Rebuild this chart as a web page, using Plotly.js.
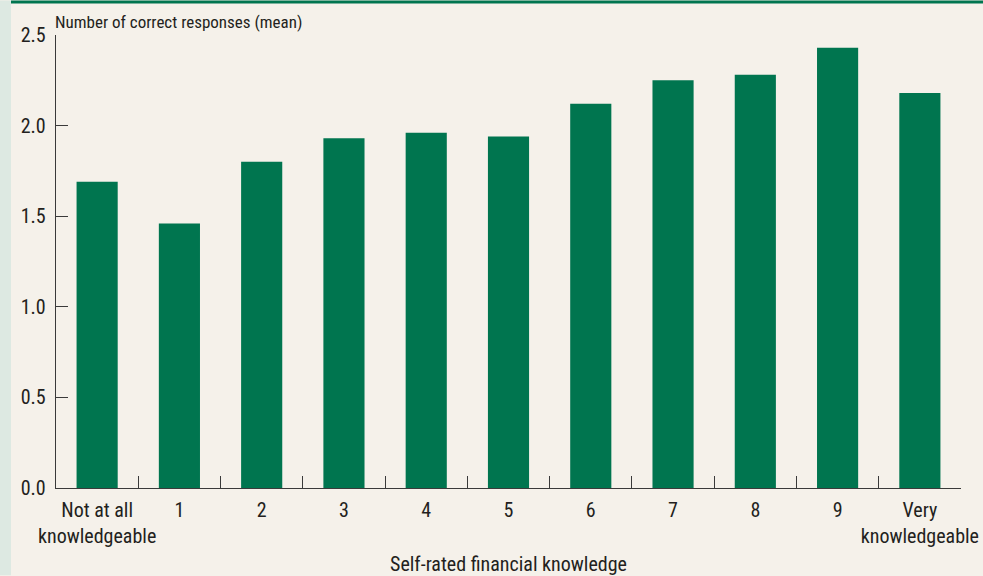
<!DOCTYPE html>
<html>
<head>
<meta charset="utf-8">
<script src="https://cdn.plot.ly/plotly-3.0.1.min.js"></script>
<style>
html,body{margin:0;padding:0;background:#F5F1EA;}
#chart{width:983px;height:576px;}
</style>
</head>
<body>
<div id="chart"></div>
<script>
const categories = ["Not at all<br>knowledgeable","1","2","3","4","5","6","7","8","9","Very<br>knowledgeable"];
const meanCorrect = [1.69, 1.46, 1.80, 1.93, 1.96, 1.94, 2.12, 2.25, 2.28, 2.43, 2.18];
const yTicks = [0, 0.5, 1.0, 1.5, 2.0, 2.5];
const yTickLabels = ["0.0","0.5","1.0","1.5","2.0","2.5"];
const yTitle = "Number of correct responses (mean)";
const xTitle = "Self-rated financial knowledge";

const FONT = "'Liberation Sans Narrow', 'Arial Narrow', 'Roboto Condensed', sans-serif";
const W = 983, H = 576;
const L = 56, R = 22, T = 34.5, B = 87.5;
const pw = W - L - R, ph = H - T - B;
const px = v => (v - L) / pw;
const py = v => (H - B - v) / ph;

const trace = {
  type: "bar",
  x: categories,
  y: meanCorrect,
  marker: {color: "#00754F", line: {width: 0}},
  hoverinfo: "x+y"
};

const layout = {
  width: W, height: H,
  margin: {l: L, r: R, t: T, b: B, pad: 0},
  paper_bgcolor: "#F5F1EA",
  plot_bgcolor: "#F5F1EA",
  font: {family: FONT, size: 20, color: "#231F20"},
  showlegend: false,
  bargap: 0.5,
  xaxis: {
    type: "category",
    range: [-0.5, categories.length - 0.5],
    tickson: "boundaries",
    ticks: "inside",
    ticklen: 12,
    tickwidth: 1,
    tickcolor: "#3a3a3a",
    tickangle: 0,
    ticklabelstandoff: 4,
    showline: true,
    linecolor: "#3a3a3a",
    linewidth: 1.3,
    showgrid: false,
    zeroline: false,
    tickfont: {family: FONT, size: 20, color: "#231F20"},
    title: {text: xTitle, font: {family: FONT, size: 20, color: "#231F20"}, standoff: 14},
    fixedrange: true
  },
  yaxis: {
    range: [0, 2.5],
    tickmode: "array",
    tickvals: yTicks,
    ticktext: yTickLabels,
    ticks: "inside",
    ticklen: 12,
    tickwidth: 1.3,
    tickcolor: "#3a3a3a",
    ticklabelstandoff: 5,
    showline: true,
    linecolor: "#3a3a3a",
    linewidth: 1.3,
    showgrid: false,
    zeroline: false,
    tickfont: {family: FONT, size: 20, color: "#231F20"},
    fixedrange: true
  },
  annotations: [{
    text: yTitle,
    xref: "paper", yref: "paper",
    x: 0, y: 1, xanchor: "left", yanchor: "bottom",
    xshift: -3, yshift: 1,
    showarrow: false,
    font: {family: FONT, size: 17, color: "#231F20"}
  }],
  shapes: [
    {type: "rect", xref: "paper", yref: "paper", layer: "below",
     x0: px(0), x1: px(11), y0: py(H), y1: py(0),
     fillcolor: "#DDE9E2", line: {width: 0}},
    {type: "rect", xref: "paper", yref: "paper", layer: "below",
     x0: px(11), x1: px(W), y0: py(3), y1: py(0),
     fillcolor: "#00754F", line: {width: 0}}
  ]
};

Plotly.newPlot("chart", [trace], layout, {displayModeBar: false, staticPlot: true});
</script>
</body>
</html>
